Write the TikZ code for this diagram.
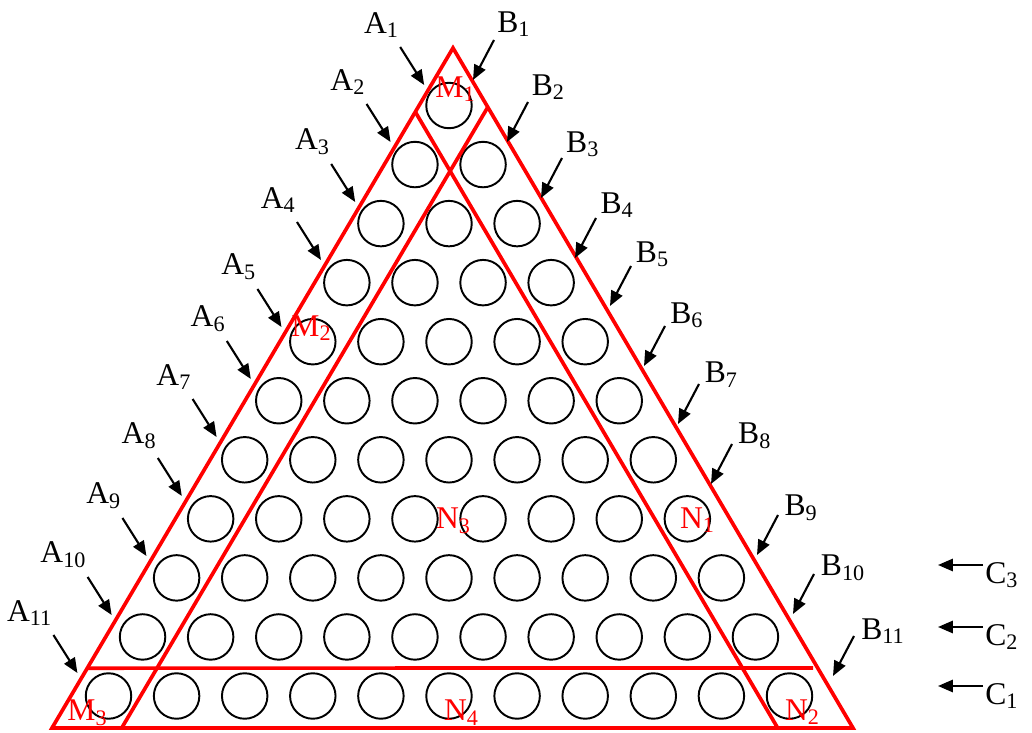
\documentclass[tikz,border=0pt]{standalone}
\usepackage{fontspec}
\setmainfont{Liberation Serif}
\usetikzlibrary{arrows.meta, calc}

\begin{document}
\begin{tikzpicture}[
  x=0.02cm, y=-0.02cm,
  edge/.style={draw=red, line width=2.1pt},
  ball/.style={draw, circle, line width=1.1pt, minimum size=0.91cm, inner sep=0pt},
  lbl/.style={font=\fontsize{18}{20}\selectfont, inner sep=0pt},
  reg/.style={lbl, text=red},
  arr/.style={-{Triangle[length=8.5pt, width=7pt]}, line width=1.2pt}
]
  \useasboundingbox (0,0) rectangle (1032,733);

  \coordinate (top) at (453,48);
  \coordinate (bl) at (52,728);
  \coordinate (br) at (853,728);

  \foreach \r in {1,...,11}
    \foreach \k in {1,...,\r}
      \node[ball] (c-\r-\k) at ({449+(\k-(\r+1)/2)*68.1}, {105.5+(\r-1)*59.05}) {};

  \coordinate (p1) at (121.7,728);
  \coordinate (q1) at ($(br)!0.913!(top)$);
  \coordinate (p2) at (777.7,728);
  \coordinate (q2) at ($(bl)!0.906!(top)$);
  \coordinate (h1) at ($(bl)!0.088!(top)$);
  \coordinate (h2) at (813,668);

  \draw[edge] (top) -- (bl) -- (br) -- cycle;
  \draw[edge] (p1) -- (q1);
  \draw[edge] (p2) -- (q2);
  \draw[edge] (h1) -- (h2);

  \foreach \i/\y in {1/85, 2/142, 3/202, 4/260, 5/327, 6/379, 7/437, 8/496, 9/556, 10/615, 11/673} {
    \coordinate (ah\i) at ({453-(\y-48)*0.5897-7}, \y);
    \coordinate (at\i) at ($(ah\i)+(-24,-38)$);
    \node[lbl, anchor=south east] (A\i) at ($(at\i)+(-1,-9)$) {A\textsubscript{\i}};
    \draw[arr] (at\i) -- (ah\i);
  }

  \foreach \i/\x/\y in {1/473/80, 2/507/142, 3/541/198, 4/575/258, 5/610/306, 6/644/366,
                        7/678/424, 8/711/484, 9/757/555, 10/793/614, 11/833/676} {
    \coordinate (bh\i) at (\x,\y);
    \coordinate (bt\i) at ($(bh\i)+(21,-40)$);
    \node[lbl, anchor=south west] (B\i) at ($(bt\i)+({3+0.4*(\i-1)},{-3+1.1*(\i-1)})$) {B\textsubscript{\i}};
    \draw[arr] (bt\i) -- (bh\i);
  }

  \foreach \i/\y in {1/686, 2/627, 3/565} {
    \coordinate (ct\i) at (983,\y);
    \coordinate (ch\i) at (938,\y);
    \node[lbl, anchor=west] (C\i) at (985,{\y+10}) {C\textsubscript{\i}};
    \draw[arr] (ct\i) -- (ch\i);
  }

  \node[reg] (M1) at (455.5,89) {M\textsubscript{1}};
  \node[reg] (M2) at (311.5,328) {M\textsubscript{2}};
  \node[reg] (M3) at (87.5,712.5) {M\textsubscript{3}};
  \node[reg] (N1) at (697.5,520) {N\textsubscript{1}};
  \node[reg] (N2) at (802.5,712) {N\textsubscript{2}};
  \node[reg] (N3) at (453.5,521) {N\textsubscript{3}};
  \node[reg] (N4) at (461.5,712.5) {N\textsubscript{4}};
\end{tikzpicture}
\end{document}
